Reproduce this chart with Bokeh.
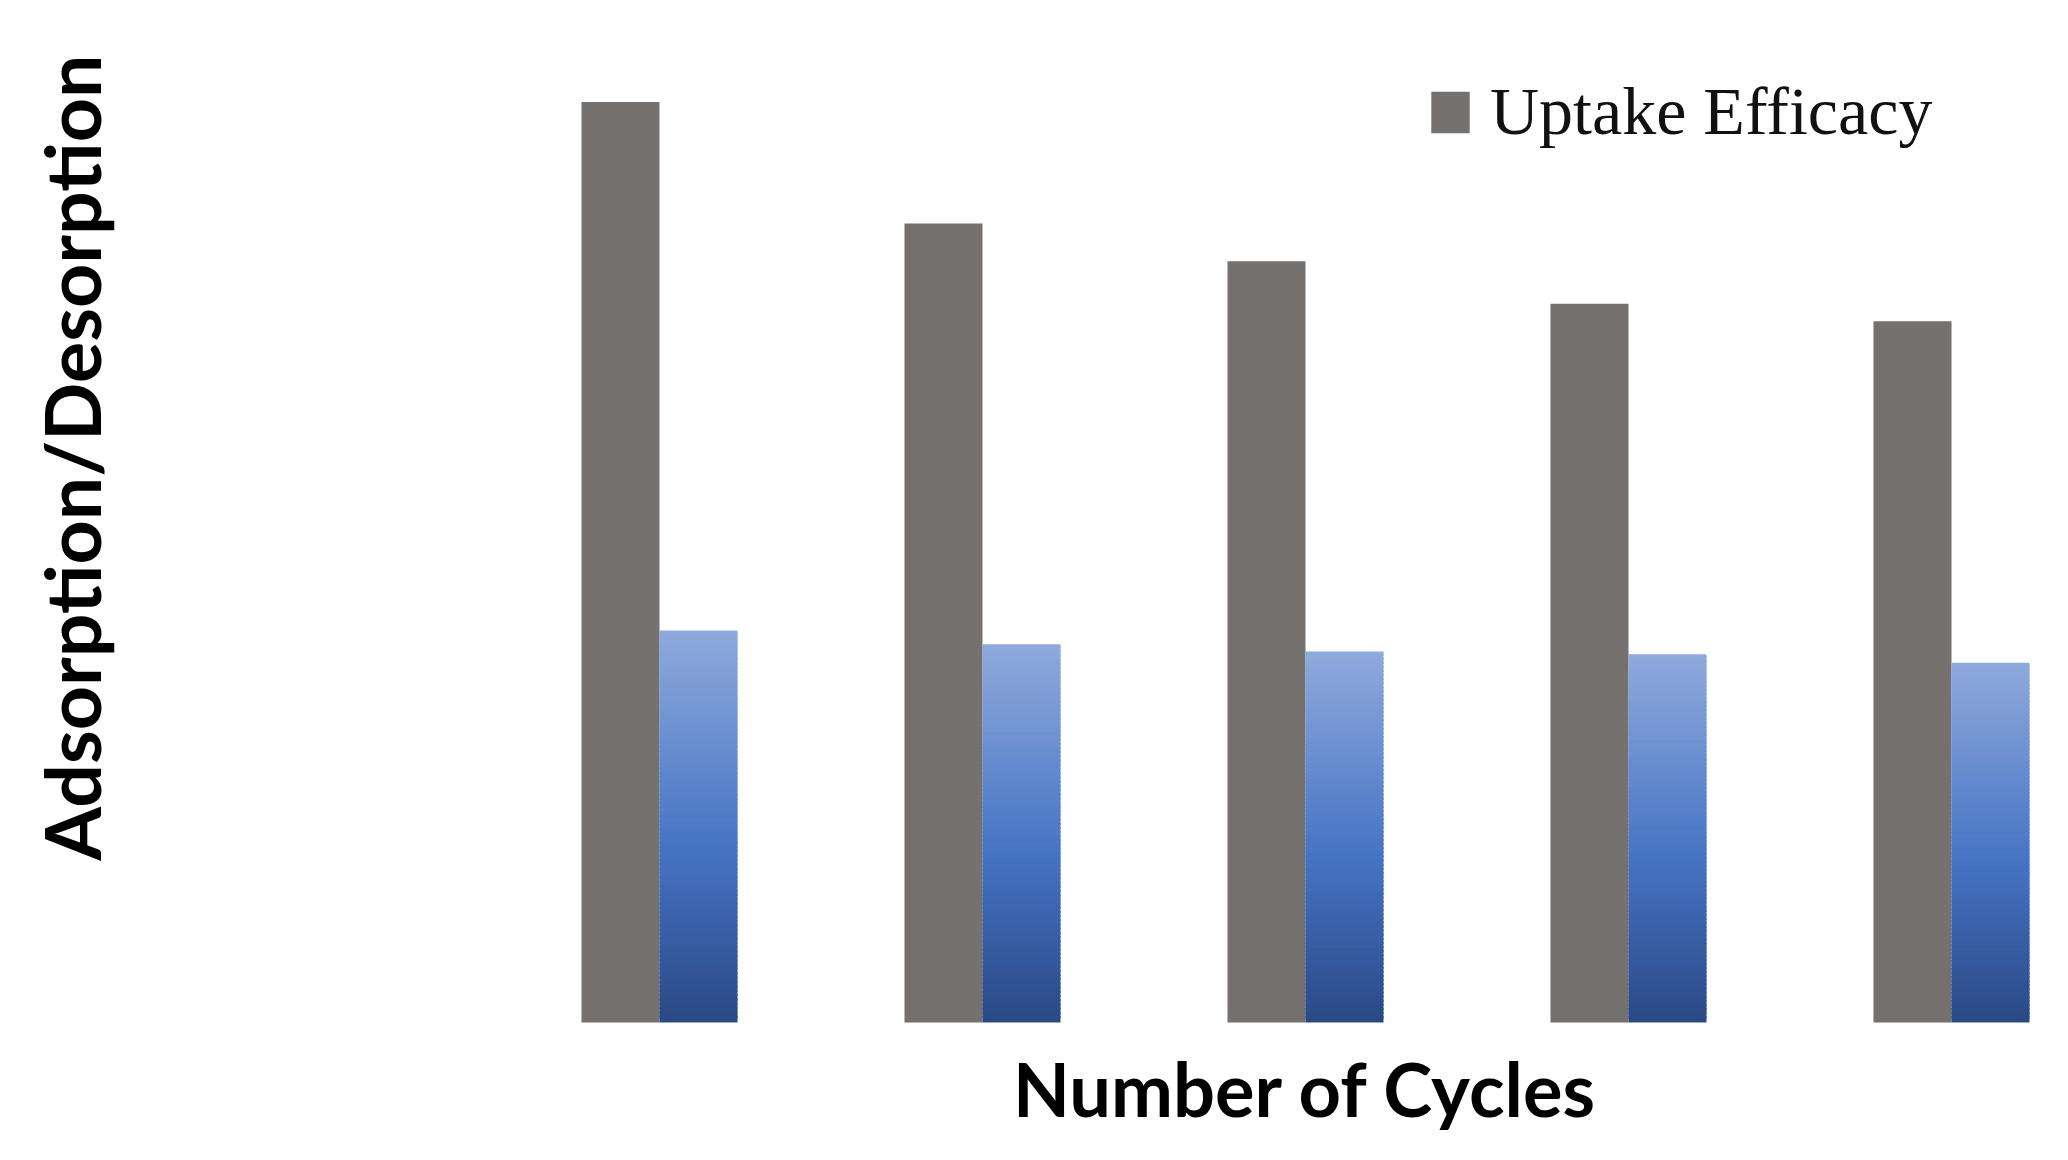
import numpy as np
from bokeh.plotting import figure
from bokeh.models import Range1d, Label, Legend, LegendItem, ColumnDataSource
from bokeh.embed import file_html
from bokeh.resources import INLINE

# ---- data ----
cycles = [1, 2, 3, 4, 5]
uptake = [100.0, 86.8, 82.7, 78.1, 76.2]
desorption = [42.6, 41.1, 40.3, 40.0, 39.1]
x_title = "Number of Cycles"
y_title = "Adsorption/Desorption"
legend_label = "Uptake Efficacy"

W, H = 2052, 1144
p = figure(width=W, height=H, output_backend="svg", toolbar_location=None,
           x_range=Range1d(-1.0402, 5.3127), y_range=Range1d(-13.255, 111.04),
           x_axis_location=None, y_axis_location=None, min_border=0,
           background_fill_color="white", border_fill_color="white")
p.grid.visible = False
p.outline_line_color = None

bw = 0.2415
grey_src = ColumnDataSource(dict(x=[c - bw / 2 for c in cycles], top=uptake))
grey = p.vbar(x="x", top="top", bottom=0, width=bw, source=grey_src,
              fill_color="#75716f", line_color=None)

# blue bars with a vertical gradient (light top -> dark bottom)
stops = [(0.0, (143, 170, 220)), (0.55, (70, 116, 196)), (1.0, (42, 73, 133))]
def grad(t):
    for (t0, c0), (t1, c1) in zip(stops[:-1], stops[1:]):
        if t <= t1:
            f = (t - t0) / (t1 - t0)
            return "#%02x%02x%02x" % tuple(int(round(a + (b - a) * f)) for a, b in zip(c0, c1))
    return "#%02x%02x%02x" % stops[-1][1]

n = 90
xs, bots, tops, cols = [], [], [], []
for c, d in zip(cycles, desorption):
    for k in range(n):
        xs.append(c + bw / 2)
        bots.append(d * k / n)
        tops.append(min(d, d * (k + 1.6) / n))
        cols.append(grad(1 - (k + 0.5) / n))
p.vbar(x=xs, bottom=bots, top=tops, width=bw, fill_color=cols, line_color=None)

legend = Legend(items=[LegendItem(label=legend_label, renderers=[grey])],
                location=(1426, 993), glyph_width=48, glyph_height=52,
                label_text_font="Liberation Serif", label_text_font_size="68px",
                label_text_color="#111111", label_standoff=16,
                border_line_color=None, background_fill_alpha=0,
                padding=0, margin=0)
p.add_layout(legend)

p.add_layout(Label(x=3, y=-7.13, text=x_title, text_align="center",
                   text_baseline="alphabetic", text_font="Lato",
                   text_font_style="bold", text_font_size="74px", text_color="black"))
p.add_layout(Label(x=-0.822, y=61.39, text=y_title, angle=np.pi / 2,
                   text_align="center", text_baseline="alphabetic", text_font="Lato",
                   text_font_style="bold", text_font_size="77px", text_color="black"))

open("out.html", "w").write(file_html(p, INLINE))
